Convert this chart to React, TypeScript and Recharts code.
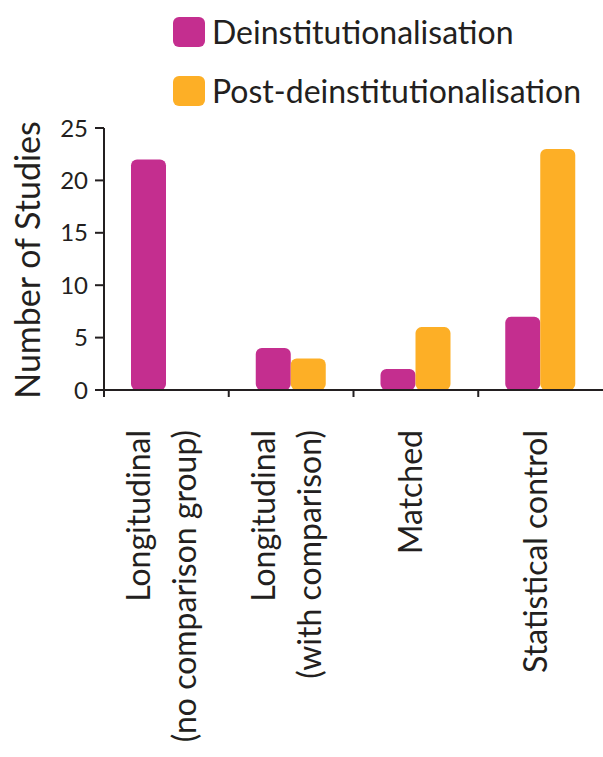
import React from 'react';
import { BarChart, Bar, XAxis, YAxis, Legend } from 'recharts';

const categories = [
  'Longitudinal|(no comparison group)',
  'Longitudinal|(with comparison)',
  'Matched',
  'Statistical control',
];
const deinstValues = [22, 4, 2, 7];
const postValues = [0, 3, 6, 23];
const yTicks = [0, 5, 10, 15, 20, 25];
const seriesNames = ['Deinstitutionalisation', 'Post-deinstitutionalisation'];
const seriesColors = ['#C42E8F', '#FDAF26'];

const data = categories.map((c, i) => ({
  category: c,
  deinst: deinstValues[i],
  post: postValues[i],
}));

const FONT = 'Lato, "Open Sans", sans-serif';
const INK = '#231F20';
const CHART_W = 603;
const Y_AXIS_W = 104;
const BAND = (CHART_W - Y_AXIS_W) / categories.length;

function XTick(props: any) {
  const { x, y, payload } = props;
  const lines = String(payload.value).split('|');
  const gap = 46;
  const fs = 32;
  const top = 430;
  const bx = x - BAND / 2;
  return (
    <g>
      <line x1={bx} x2={bx} y1={y - 8} y2={y - 1} stroke={INK} strokeWidth={2} />
      {lines.map((l, i) => {
        const cx = x - 5 + (i - (lines.length - 1) / 2) * gap + fs * 0.36;
        return (
          <text
            key={i}
            x={cx}
            y={top}
            transform={`rotate(-90 ${cx} ${top})`}
            textAnchor="end"
            fontSize={fs}
            fill={INK}
            fontFamily={FONT}
          >
            {l}
          </text>
        );
      })}
    </g>
  );
}

function YLabel() {
  const x = 40;
  const y = 260;
  return (
    <text
      x={x}
      y={y}
      transform={`rotate(-90 ${x} ${y})`}
      textAnchor="middle"
      fontSize={34}
      fill={INK}
      fontFamily={FONT}
    >
      Number of Studies
    </text>
  );
}

const LegendContent = () => (
  <div style={{ fontFamily: FONT }}>
    {seriesNames.map((n, i) => (
      <div key={n} style={{ display: 'flex', alignItems: 'center', height: 59 }}>
        <div
          style={{
            width: 32,
            height: 30,
            borderRadius: 6,
            background: seriesColors[i],
            marginRight: 7,
          }}
        />
        <span style={{ fontSize: 32, color: INK, lineHeight: '36px' }}>{n}</span>
      </div>
    ))}
  </div>
);

export default function App() {
  return (
    <div style={{ position: 'absolute', left: 0, top: 0, background: '#fff' }}>
      <BarChart
        width={CHART_W}
        height={757}
        data={data}
        margin={{ top: 128, right: 0, left: 0, bottom: 0 }}
        barGap={0}
        barSize={35}
      >
        <XAxis
          dataKey="category"
          interval={0}
          height={367}
          tick={<XTick />}
          tickLine={false}
          tickSize={8}
          tickMargin={0}
          stroke={INK}
          strokeWidth={2}
        />
        <YAxis
          width={Y_AXIS_W}
          domain={[0, 25]}
          ticks={yTicks}
          interval={0}
          tickSize={9}
          tickMargin={7}
          stroke={INK}
          strokeWidth={2}
          tick={{ fontSize: 24, fill: INK, fontFamily: FONT }}
          label={<YLabel />}
        />
        <Legend
          layout="vertical"
          verticalAlign="middle"
          align="center"
          content={<LegendContent />}
          wrapperStyle={{ top: 2, left: 173, width: 'auto', height: 'auto' }}
        />
        <Bar dataKey="deinst" name={seriesNames[0]} fill={seriesColors[0]} radius={6} isAnimationActive={false} />
        <Bar dataKey="post" name={seriesNames[1]} fill={seriesColors[1]} radius={6} isAnimationActive={false} />
      </BarChart>
    </div>
  );
}
